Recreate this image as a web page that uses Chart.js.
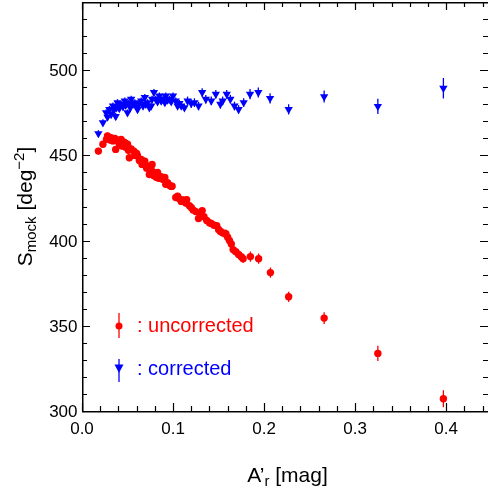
<!DOCTYPE html>
<html>
<head>
<meta charset="utf-8">
<script src="https://cdn.jsdelivr.net/npm/chart.js@4.4.1/dist/chart.umd.min.js"></script>
<style>
  html, body { margin: 0; padding: 0; background: #fff; overflow: hidden; }
  #wrap { width: 488px; height: 488px; }
</style>
</head>
<body>
<div id="wrap"><canvas id="chart" width="488" height="488"></canvas></div>
<script>
// uncorrected counts (red circles)
const uncorrX = [0.018, 0.023, 0.027, 0.028, 0.031, 0.032, 0.034, 0.036, 0.037, 0.0375,
  0.040, 0.041, 0.043, 0.044, 0.046, 0.047, 0.048, 0.050, 0.051, 0.052,
  0.054, 0.057, 0.058, 0.060, 0.061, 0.063, 0.065, 0.066, 0.068, 0.069,
  0.071, 0.072, 0.074, 0.075, 0.076, 0.077, 0.079, 0.080, 0.082, 0.083,
  0.085, 0.087, 0.089, 0.091, 0.092, 0.094, 0.096, 0.098, 0.099, 0.103,
  0.105, 0.107, 0.109, 0.111, 0.114, 0.115, 0.118, 0.120, 0.122, 0.125,
  0.128, 0.130, 0.132, 0.134, 0.137, 0.140, 0.142, 0.145, 0.148, 0.150,
  0.152, 0.155, 0.158, 0.160, 0.162, 0.164, 0.166, 0.169, 0.172, 0.175,
  0.177, 0.185, 0.194, 0.207, 0.227, 0.266, 0.325, 0.397];
const uncorrY = [452.5, 456.5, 459.5, 461.4, 459.0, 460.4, 458.5, 460.0, 453.5, 459.4,
  458.0, 456.8, 459.4, 455.5, 457.8, 457.5, 454.8, 456.5, 453.0, 448.6,
  453.8, 452.5, 450.0, 451.2, 449.6, 447.0, 447.6, 444.7, 445.5, 446.6,
  442.5, 443.7, 438.8, 441.0, 441.8, 444.7, 438.0, 439.8, 437.0, 440.0,
  436.5, 437.5, 435.9, 437.0, 433.0, 433.9, 432.5, 431.8, 431.9, 425.3,
  426.0, 424.5, 423.0, 423.8, 422.0, 424.0, 420.5, 419.4, 418.0, 417.0,
  413.0, 416.0, 417.6, 414.0, 411.8, 410.5, 410.0, 409.0, 408.8, 406.5,
  405.3, 404.5, 404.0, 402.0, 400.0, 398.0, 394.7, 393.5, 391.8, 390.5,
  389.4, 390.6, 389.4, 381.2, 367.0, 354.5, 333.8, 307.2];
const uncorrErr = [2, 2, 2, 2, 2, 2, 2, 2, 2, 2,
  2, 2, 2, 2, 2, 2, 2, 2, 2, 2,
  2, 2, 2, 2, 2, 2, 2, 2, 2, 2,
  2, 2, 2, 2, 2, 2, 2, 2, 2, 2,
  2, 2, 2, 2, 2, 2, 2, 2, 2, 2,
  2, 2, 2, 2, 2, 2, 2, 2, 2, 2,
  2, 2, 2, 2, 2, 2, 2, 2, 2, 2,
  2.5, 2.5, 2.5, 2.5, 2.5, 2.5, 2.5, 2.5, 2.5, 2.5,
  2.5, 3, 3, 3, 3, 3.5, 4.5, 5];

// corrected counts (blue triangles)
const corrX = [0.018, 0.023, 0.0265, 0.028, 0.030, 0.032, 0.034, 0.035, 0.037, 0.038,
  0.039, 0.041, 0.043, 0.045, 0.047, 0.048, 0.050, 0.051, 0.053, 0.054,
  0.056, 0.058, 0.060, 0.061, 0.063, 0.065, 0.067, 0.069, 0.070, 0.072,
  0.074, 0.076, 0.077, 0.079, 0.081, 0.083, 0.085, 0.087, 0.089, 0.091,
  0.092, 0.094, 0.096, 0.098, 0.100, 0.103, 0.105, 0.107, 0.109, 0.1125,
  0.116, 0.120, 0.1235, 0.128, 0.132, 0.136, 0.142, 0.147, 0.152, 0.1545,
  0.159, 0.163, 0.1675, 0.172, 0.1776, 0.1846, 0.1937, 0.2066, 0.227, 0.266,
  0.325, 0.397];
const corrY = [462.8, 469.2, 475.1, 472.5, 477.0, 474.0, 479.0, 476.5, 472.8, 478.0,
  481.0, 477.5, 480.0, 478.5, 482.0, 479.5, 475.0, 480.5, 478.0, 483.0,
  480.0, 481.0, 478.5, 477.0, 480.5, 482.0, 479.0, 484.0, 480.0, 481.0,
  478.0, 479.0, 483.0, 486.9, 483.0, 481.5, 484.9, 482.0, 483.0, 481.0,
  484.9, 482.5, 483.0, 481.5, 484.9, 482.0, 479.0, 480.5, 479.0, 478.0,
  482.0, 480.5, 481.0, 479.0, 486.9, 483.0, 482.0, 485.9, 480.0, 482.0,
  485.9, 483.0, 479.0, 477.0, 481.0, 485.9, 486.9, 483.5, 477.0, 484.5,
  478.8, 489.4];
const corrErr = [2, 2, 2, 2, 2, 2, 2, 2, 2, 2,
  2, 2, 2, 2, 2, 2, 2, 2, 2, 2,
  2, 2, 2, 2, 2, 2, 2, 2, 2, 2,
  2, 2, 2, 2, 2, 2, 2, 2, 2, 2,
  2, 2, 2, 2, 2, 2, 2, 2, 2, 2,
  2.5, 2.5, 2.5, 2.5, 2.5, 2.5, 2.5, 2.5, 2.5, 2.5,
  2.5, 2.5, 2.5, 2.5, 2.5, 3, 3, 3, 3, 3.5,
  4.5, 6];

// axis ticks
const xMajorTicks = [0, 0.1, 0.2, 0.3, 0.4];
const xTickLabels = ['0.0', '0.1', '0.2', '0.3', '0.4'];
const xMinorTicks = [0.02, 0.04, 0.06, 0.08, 0.12, 0.14, 0.16, 0.18, 0.22, 0.24, 0.26, 0.28,
  0.32, 0.34, 0.36, 0.38, 0.42, 0.44];
const yMajorTicks = [300, 350, 400, 450, 500];
const yTickLabels = ['300', '350', '400', '450', '500'];
const yMinorTicks = [310, 320, 330, 340, 360, 370, 380, 390, 410, 420, 430, 440,
  460, 470, 480, 490, 510, 520, 530];

const RED = 'rgb(255,0,0)';
const BLUE = 'rgb(0,0,255)';
const FONT = '"Liberation Sans", Arial, Helvetica, sans-serif';

Chart.defaults.font.family = FONT;
Chart.defaults.color = '#000';

function toPoints(xs, ys) {
  return xs.map(function (x, i) { return { x: x, y: ys[i] }; });
}

// vertical error bars, drawn under the markers
const errorBars = {
  id: 'errorBars',
  beforeDatasetsDraw(chart) {
    const ctx = chart.ctx;
    const xs = chart.scales.x, ys = chart.scales.y;
    ctx.save();
    ctx.lineWidth = 1.3;
    chart.data.datasets.forEach(function (ds) {
      ctx.strokeStyle = ds.backgroundColor;
      ds.data.forEach(function (p, i) {
        const px = xs.getPixelForValue(p.x);
        ctx.beginPath();
        ctx.moveTo(px, ys.getPixelForValue(p.y - ds.errors[i]));
        ctx.lineTo(px, ys.getPixelForValue(p.y + ds.errors[i]));
        ctx.stroke();
      });
    });
    ctx.restore();
  }
};

// framed box with inward ticks on all sides, tick labels, axis titles and the legend
const frame = {
  id: 'frame',
  afterDraw(chart) {
    const ctx = chart.ctx;
    const a = chart.chartArea;
    const xs = chart.scales.x, ys = chart.scales.y;
    ctx.save();
    ctx.strokeStyle = '#000';
    ctx.lineWidth = 1.5;
    ctx.beginPath();
    ctx.moveTo(a.left + 0.75, a.top + 0.75);
    ctx.lineTo(a.right, a.top + 0.75);
    ctx.moveTo(a.left + 0.75, a.top);
    ctx.lineTo(a.left + 0.75, a.bottom + 0.75);
    ctx.lineTo(a.right, a.bottom + 0.75);
    // right edge of the box sits just past the canvas
    ctx.moveTo(a.right + 0.75, a.top);
    ctx.lineTo(a.right + 0.75, a.bottom);
    ctx.stroke();

    ctx.lineWidth = 1.2;
    function xTick(v, len) {
      const px = Math.round(xs.getPixelForValue(v)) + 0.5;
      ctx.beginPath();
      ctx.moveTo(px, a.bottom); ctx.lineTo(px, a.bottom - len);
      ctx.moveTo(px, a.top); ctx.lineTo(px, a.top + len);
      ctx.stroke();
    }
    function yTick(v, len) {
      const py = Math.round(ys.getPixelForValue(v)) + 0.5;
      ctx.beginPath();
      ctx.moveTo(a.left, py); ctx.lineTo(a.left + len, py);
      ctx.moveTo(a.right, py); ctx.lineTo(a.right - len, py);
      ctx.stroke();
    }
    xMajorTicks.forEach(function (v) { xTick(v, 8); });
    xMinorTicks.forEach(function (v) { xTick(v, 5); });
    yMajorTicks.forEach(function (v) { yTick(v, 8); });
    yMinorTicks.forEach(function (v) { yTick(v, 5); });

    ctx.fillStyle = '#000';
    ctx.font = '17px ' + FONT;
    ctx.textBaseline = 'alphabetic';
    ctx.textAlign = 'center';
    xMajorTicks.forEach(function (v, i) {
      ctx.fillText(xTickLabels[i], xs.getPixelForValue(v), 433.5);
    });
    ctx.textAlign = 'right';
    yMajorTicks.forEach(function (v, i) {
      ctx.fillText(yTickLabels[i], 77.5, ys.getPixelForValue(v) + 6);
    });

    // axis titles with sub/superscripts
    function drawParts(parts, cx, baseY) {
      let w = 0;
      parts.forEach(function (p) {
        ctx.font = p.s + 'px ' + FONT;
        p.w = ctx.measureText(p.t).width;
        w += p.w;
      });
      let x = cx - w / 2;
      ctx.textAlign = 'left';
      ctx.textBaseline = 'alphabetic';
      parts.forEach(function (p) {
        ctx.font = p.s + 'px ' + FONT;
        ctx.fillText(p.t, x, baseY + (p.dy || 0));
        x += p.w;
      });
    }
    drawParts([
      { t: 'A\u2019', s: 21 },
      { t: 'r', s: 15, dy: 4 },
      { t: ' [mag]', s: 21 }
    ], 287.5, 481.5);

    ctx.save();
    ctx.translate(32, 206.5);
    ctx.rotate(-Math.PI / 2);
    drawParts([
      { t: 'S', s: 21 },
      { t: 'mock', s: 15, dy: 4 },
      { t: ' [deg', s: 21 },
      { t: '\u22122', s: 15, dy: -8 },
      { t: ']', s: 21 }
    ], 0, 0);
    ctx.restore();

    // legend
    ctx.lineWidth = 1.3;
    ctx.strokeStyle = RED;
    ctx.fillStyle = RED;
    ctx.beginPath(); ctx.moveTo(119, 313); ctx.lineTo(119, 338); ctx.stroke();
    ctx.beginPath(); ctx.arc(119, 326, 3.5, 0, Math.PI * 2); ctx.fill();
    ctx.font = '20px ' + FONT;
    ctx.textAlign = 'left';
    ctx.fillText(': uncorrected', 137, 331.5);

    ctx.strokeStyle = BLUE;
    ctx.fillStyle = BLUE;
    ctx.beginPath(); ctx.moveTo(119, 359); ctx.lineTo(119, 382); ctx.stroke();
    ctx.beginPath();
    ctx.moveTo(114.5, 364.5); ctx.lineTo(123.5, 364.5); ctx.lineTo(119, 373);
    ctx.closePath(); ctx.fill();
    ctx.fillText(': corrected', 137, 375);
    ctx.restore();
  }
};

new Chart(document.getElementById('chart'), {
  type: 'scatter',
  data: {
    datasets: [
      {
        label: 'uncorrected',
        data: toPoints(uncorrX, uncorrY),
        errors: uncorrErr,
        backgroundColor: RED,
        borderWidth: 0,
        pointStyle: 'circle',
        pointRadius: 3.7
      },
      {
        label: 'corrected',
        data: toPoints(corrX, corrY),
        errors: corrErr,
        backgroundColor: BLUE,
        borderWidth: 0,
        pointStyle: 'triangle',
        rotation: 180,
        pointRadius: 4.8
      }
    ]
  },
  options: {
    responsive: false,
    devicePixelRatio: 1,
    animation: false,
    layout: { autoPadding: false, padding: { top: 2, right: -1, left: 0, bottom: 0 } },
    plugins: { legend: { display: false }, tooltip: { enabled: false } },
    scales: {
      x: {
        type: 'linear',
        min: 0,
        max: 0.446,
        grid: { display: false, drawTicks: false },
        border: { display: false },
        ticks: { display: false },
        afterFit: function (s) { s.height = 77; }
      },
      y: {
        min: 300,
        max: 540,
        grid: { display: false, drawTicks: false },
        border: { display: false },
        ticks: { display: false },
        afterFit: function (s) { s.width = 82; }
      }
    }
  },
  plugins: [errorBars, frame]
});
</script>
</body>
</html>
